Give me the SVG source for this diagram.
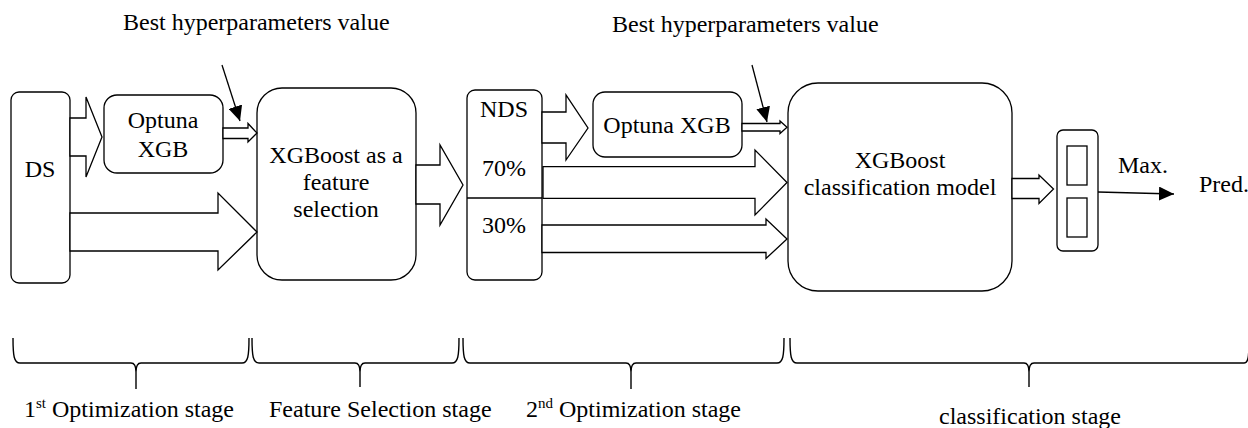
<svg xmlns="http://www.w3.org/2000/svg" width="1248" height="428" viewBox="0 0 1248 428" font-family="'Liberation Serif', 'Times New Roman', serif">
  <style>
    .box { fill: #ffffff; stroke: #000000; stroke-width: 1.3; }
    .blk { fill: #ffffff; stroke: #000000; stroke-width: 1.3; stroke-linejoin: miter; }
    .ln { fill: none; stroke: #000000; stroke-width: 1.3; }
    .brace { fill: none; stroke: #000000; stroke-width: 1.4; }
    text, tspan { font-family: "Liberation Serif", "Times New Roman", serif; font-size: 24px; fill: #000000; }
    tspan.sup { font-size: 15px; }
    .c { text-anchor: middle; }
  </style>
  <defs>
    <marker id="tri" markerUnits="userSpaceOnUse" markerWidth="15" markerHeight="14" refX="15" refY="7" orient="auto">
      <path d="M0,0 L15,7 L0,14 Z" fill="#000000"/>
    </marker>
  </defs>

  <rect width="1248" height="428" fill="#ffffff"/>

  <!-- top annotations -->
  <text x="123" y="30">Best hyperparameters value</text>
  <text x="612" y="32">Best hyperparameters value</text>

  <!-- nodes -->
  <g id="ds">
    <rect class="box" x="11" y="92" width="59" height="191" rx="8"/>
    <text class="c" x="40" y="177">DS</text>
  </g>
  <g id="optuna1">
    <rect class="box" x="104" y="95" width="119" height="78" rx="13"/>
    <text class="c" x="163" y="128">Optuna</text>
    <text class="c" x="163" y="157">XGB</text>
  </g>
  <g id="fs">
    <rect class="box" x="257" y="88" width="159" height="192" rx="25"/>
    <text class="c" x="336" y="163">XGBoost as a</text>
    <text class="c" x="336" y="190">feature</text>
    <text class="c" x="336" y="217">selection</text>
  </g>
  <g id="nds">
    <rect class="box" x="467" y="90" width="75" height="190" rx="8"/>
    <line class="ln" x1="467" y1="198" x2="542" y2="198"/>
    <text class="c" x="504" y="117">NDS</text>
    <text class="c" x="504" y="176">70%</text>
    <text class="c" x="504" y="233">30%</text>
  </g>
  <g id="optuna2">
    <rect class="box" x="593" y="92" width="149" height="65" rx="12"/>
    <text class="c" x="667" y="133">Optuna XGB</text>
  </g>
  <g id="classifier">
    <rect class="box" x="788" y="83" width="224" height="208" rx="30"/>
    <text class="c" x="900" y="168">XGBoost</text>
    <text class="c" x="900" y="195">classification model</text>
  </g>
  <g id="output">
    <rect class="box" x="1057" y="130" width="41" height="121" rx="6"/>
    <rect class="box" x="1067" y="146" width="20" height="39"/>
    <rect class="box" x="1067" y="198" width="20" height="39"/>
  </g>
  <g id="pred-label">
    <text x="1118" y="173">Max.</text>
    <text x="1199" y="192">Pred.</text>
  </g>

  <!-- connectors -->
  <g id="connectors">
    <polygon class="blk" points="70,118 86,118 86,97 102,137 86,177 86,156 70,156"/>
    <polygon class="blk" points="70,213 218,213 218,193 257,232 218,270 218,251 70,251"/>
    <polygon class="blk" points="223,128 248,128 248,123.5 257,133 248,142 248,138.5 223,138.5"/>
    <polygon class="blk" points="416,165 440,165 440,145 463,185 440,225 440,204 416,204"/>
    <polygon class="blk" points="542,112 566,112 566,95 588,128 566,160 566,143 542,143"/>
    <polygon class="blk" points="742,123.5 780,123.5 780,121 787,127.3 780,133.5 780,131 742,131"/>
    <polygon class="blk" points="543,166.7 755,166.7 755,150 787,182.5 755,215 755,198.3 543,198.3"/>
    <polygon class="blk" points="542,225 766,225 766,219 787,239 766,258.5 766,252.5 542,252.5"/>
    <polygon class="blk" points="1012,178.5 1039,178.5 1039,175 1053.5,189 1039,203.5 1039,198.5 1012,198.5"/>
    <line class="ln" x1="222" y1="65" x2="240" y2="121" marker-end="url(#tri)"/>
    <line class="ln" x1="752" y1="65" x2="767" y2="122" marker-end="url(#tri)"/>
    <line class="ln" x1="1098" y1="192" x2="1174" y2="194" marker-end="url(#tri)"/>
  </g>

  <!-- stage braces -->
  <g id="braces">
    <path class="brace" d="M13,338 C13,356 14,363 20,363 L131,363 C134.5,363 136,366 136,372 L136,389 M136,372 C136,366 137.5,363 141,363 L242,363 C248,363 249,356 249,338"/>
    <path class="brace" d="M252,338 C252,356 253,363 259,363 L355,363 C358.5,363 360,366 360,372 L360,387 M360,372 C360,366 361.5,363 365,363 L452,363 C458,363 459,356 459,338"/>
    <path class="brace" d="M463,338 C463,356 464,363 470,363 L626,363 C629.5,363 631,366 631,372 L631,389 M631,372 C631,366 632.5,363 636,363 L777,363 C783,363 784,356 784,338"/>
    <path class="brace" d="M790,338 C790,356 791,363 797,363 L1024,363 C1027.5,363 1029,366 1029,372 L1029,387 M1029,372 C1029,366 1030.5,363 1034,363 L1244,363 C1248,363 1249,358 1249,340"/>
  </g>

  <!-- stage labels -->
  <g id="stage-labels">
    <text x="24" y="417">1<tspan class="sup" dy="-9">st</tspan><tspan dy="9"> Optimization stage</tspan></text>
    <text x="269" y="417">Feature Selection stage</text>
    <text x="526" y="417">2<tspan class="sup" dy="-9">nd</tspan><tspan dy="9"> Optimization stage</tspan></text>
    <text x="939" y="424">classification stage</text>
  </g>
</svg>
